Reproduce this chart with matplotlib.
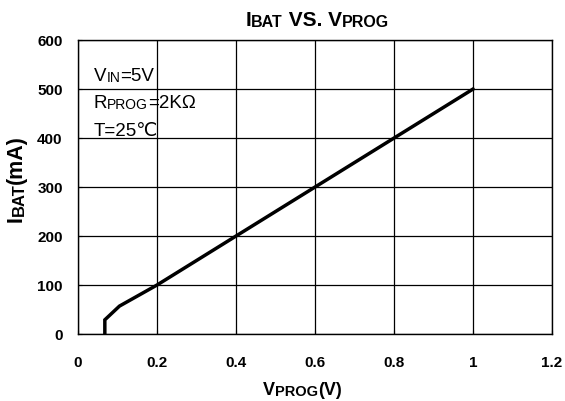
import matplotlib
matplotlib.use('Agg')
import matplotlib.pyplot as plt
from matplotlib import font_manager

# данные кривой
v_prog = [0.068, 0.068, 0.105, 0.2, 0.4, 0.6, 0.8, 1.0]
i_bat = [0, 29, 57, 100, 200, 300, 400, 500]

x_ticks = [0, 0.2, 0.4, 0.6, 0.8, 1.0, 1.2]
x_tick_labels = ['0', '0.2', '0.4', '0.6', '0.8', '1', '1.2']
y_ticks = [0, 100, 200, 300, 400, 500, 600]

names = {f.name for f in font_manager.fontManager.ttflist}
fam = 'Liberation Sans Narrow' if 'Liberation Sans Narrow' in names else 'Liberation Sans'
plt.rcParams['font.family'] = [fam, 'DejaVu Sans']

fig = plt.figure(figsize=(5.65, 4.01), dpi=100)
ax = fig.add_axes([0.138, 0.167, 0.839, 0.733])

ax.plot(v_prog, i_bat, color='black', linewidth=2.5, solid_joinstyle='miter')

ax.set_xlim(0, 1.2)
ax.set_ylim(0, 600)
ax.set_xticks(x_ticks)
ax.set_xticklabels(x_tick_labels)
ax.set_yticks(y_ticks)
ax.grid(True, color='black', linewidth=0.9)
ax.tick_params(direction='in', length=3, color='black', labelsize=11)
ax.tick_params(axis='x', pad=16)
ax.tick_params(axis='y', pad=11)
for lab in ax.get_xticklabels() + ax.get_yticklabels():
    lab.set_fontweight('bold')
for s in ax.spines.values():
    s.set_linewidth(1.0)


def rich(x, y, parts, rotation=0, weight='bold'):
    # части текста разного размера (малые прописные)
    last = None
    for txt, size in parts:
        if last is None:
            last = fig.text(x, y, txt, fontsize=size, fontweight=weight,
                            rotation=rotation, ha='left', va='bottom')
        elif rotation == 0:
            last = ax.annotate(txt, xy=(1, 0), xycoords=last,
                               fontsize=size, fontweight=weight,
                               va='bottom', ha='left', annotation_clip=False)
        else:
            last = ax.annotate(txt, xy=(1, 1), xycoords=last,
                               fontsize=size, fontweight=weight,
                               rotation=90, va='bottom', ha='right',
                               annotation_clip=False)
    return last


# заголовок
rich(0.434, 0.925, [('I', 15), ('BAT', 11.5), (' VS. V', 15), ('PROG', 11.5)])

# подписи осей
rich(0.466, 0.006, [('V', 13), ('PROG', 10.5), ('(V)', 13)])
rich(0.010, 0.446, [('I', 15.5), ('BAT', 12), ('(mA)', 15.5)], rotation=90)

# условия
rich(0.166, 0.788, [('V', 13.5), ('IN', 10), ('=5V', 13.5)], weight='normal')
rich(0.166, 0.72, [('R', 13.5), ('PROG', 10), ('=2K\u03a9', 13.5)], weight='normal')
rich(0.166, 0.652, [('T=25\u2103', 13.5)], weight='normal')

fig.savefig('out.png', dpi=100)
print('done')
